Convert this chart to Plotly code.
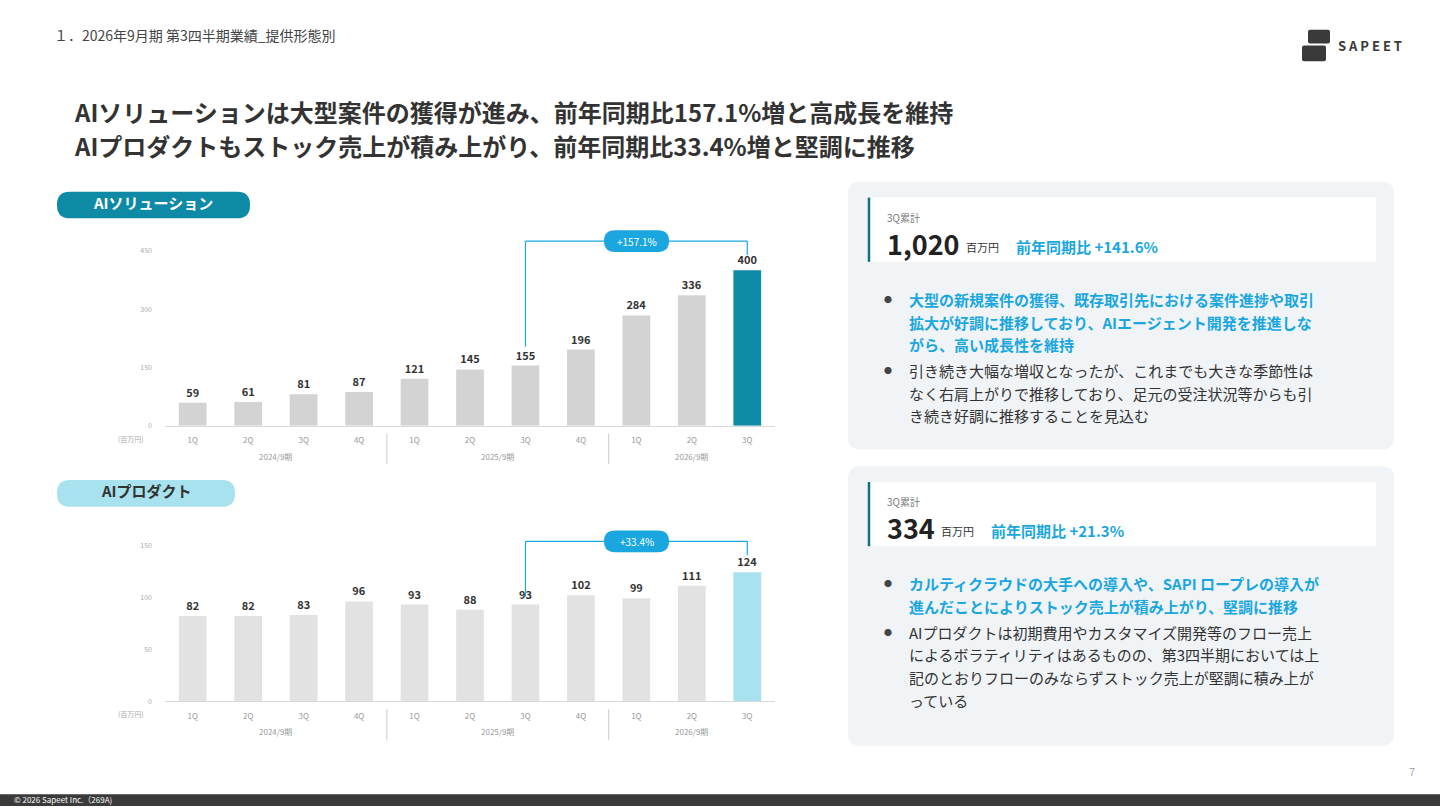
import plotly.graph_objects as go

quarters = ["1Q","2Q","3Q","4Q","1Q","2Q","3Q","4Q","1Q","2Q","3Q"]
fiscal_years = ["2024/9期", "2025/9期", "2026/9期"]
sol_values = [59, 61, 81, 87, 121, 145, 155, 196, 284, 336, 400]
prod_values = [82, 82, 83, 96, 93, 88, 93, 102, 99, 111, 124]
sol_growth = "+157.1%"
prod_growth = "+33.4%"

W, H = 1440, 810
FONT = "Noto Sans CJK JP"
def px(x): return x / W
def py(y): return 1 - y / H
PL, PR = 165, 775
def cat_px(c): return PL + (c + 0.5) * (PR - PL) / len(quarters)

xs = list(range(len(quarters)))
fig = go.Figure()
shapes, ann = [], []

def rrect(x0, y0, x1, y1, r, color, line=None):
    X0, X1 = px(x0), px(x1)
    Y0, Y1 = py(y0), py(y1)
    rx, ry = r / W, r / H
    p = (f"M {X0+rx},{Y0} L {X1-rx},{Y0} Q {X1},{Y0} {X1},{Y0-ry} "
         f"L {X1},{Y1+ry} Q {X1},{Y1} {X1-rx},{Y1} L {X0+rx},{Y1} "
         f"Q {X0},{Y1} {X0},{Y1+ry} L {X0},{Y0-ry} Q {X0},{Y0} {X0+rx},{Y0} Z")
    shapes.append(dict(type="path", path=p, xref="paper", yref="paper",
                       fillcolor=color, line=dict(width=0), layer="below"))

def text(x, y, s, size, color="#333", bold=False, anchor="left", yanchor="middle"):
    ann.append(dict(x=px(x), y=py(y), xref="paper", yref="paper", text=(f"<b>{s}</b>" if bold else s),
                    showarrow=False, xanchor=anchor, yanchor=yanchor,
                    font=dict(size=size, color=color, family=FONT)))

def hline(x0, y0, x1, y1, color, w):
    shapes.append(dict(type="line", xref="paper", yref="paper", x0=px(x0), x1=px(x1), y0=py(y0), y1=py(y1),
                       line=dict(color=color, width=w)))

charts = [
    dict(vals=sol_values, hi="#0e8aa6", base="#d3d3d3", ax="", y0px=425,
         ticks=[0,150,300,450], growth=sol_growth, brL=345, brTop=238, brR=252),
    dict(vals=prod_values, hi="#a8e2ee", base="#e2e2e2", ax="2", y0px=704,
         ticks=[0,50,100,150], growth=prod_growth, brL=598, brTop=542, brR=556),
]
for c in charts:
    colors = [c["base"]] * (len(xs) - 1) + [c["hi"]]
    fig.add_trace(go.Bar(x=xs, y=c["vals"], marker=dict(color=colors, line=dict(width=0)), width=0.5,
                         text=[f"<b>{v}</b>" for v in c["vals"]], textposition="outside", cliponaxis=False,
                         textfont=dict(size=11, color="#333", family=FONT),
                         xaxis="x" + c["ax"], yaxis="y" + c["ax"], showlegend=False))
    for sx in [3.5, 7.5]:
        hline(cat_px(sx), c["y0px"] + 8, cat_px(sx), c["y0px"] + 39, "#cccccc", 1)
    for fy, cx in zip(fiscal_years, [1.5, 5.5, 9]):
        text(cat_px(cx), c["y0px"] + 31, fy, 8, "#999", anchor="center")
    text(116, c["y0px"] + 13, "(百万円)", 7, "#aaa")
    lc = "#1aa7e0"
    hline(cat_px(6), c["brL"], cat_px(6), c["brTop"], lc, 1.2)
    hline(cat_px(6), c["brTop"], cat_px(10), c["brTop"], lc, 1.2)
    hline(cat_px(10), c["brTop"], cat_px(10), c["brR"], lc, 1.2)
    rrect(604, c["brTop"] - 11, 669, c["brTop"] + 11, 11, lc)
    text(636.5, c["brTop"], c["growth"], 10, "white", anchor="center")

dom_x = [px(PL), px(PR)]
xcommon = dict(domain=dom_x, range=[-0.5, 10.5], tickvals=xs, ticktext=quarters, showline=True, linecolor="#d9d9d9",
               tickfont=dict(size=8, color="#999", family=FONT), ticks="", ticklabelstandoff=7)
ycommon = dict(showgrid=False, zeroline=False, tickfont=dict(size=7, color="#aaa", family=FONT), ticks="",
               showline=False, ticklabelstandoff=12)
fig.update_layout(
    xaxis=dict(**xcommon),
    yaxis=dict(domain=[py(425), py(248)], range=[0, 450], tickvals=charts[0]["ticks"], **ycommon),
    xaxis2=dict(**xcommon, anchor="y2"),
    yaxis2=dict(domain=[py(704), py(546)], range=[0, 150], tickvals=charts[1]["ticks"], anchor="x2", **ycommon),
)

text(52, 29, "１．2026年9月期 第3四半期業績_提供形態別", 14, "#444")
text(72, 107, "AIソリューションは大型案件の獲得が進み、前年同期比157.1%増と高成長を維持", 24, "#333", bold=True)
text(72, 141, "AIプロダクトもストック売上が積み上がり、前年同期比33.4%増と堅調に推移", 24, "#333", bold=True)

rrect(1308, 24, 1330, 38, 2, "#3a3a3a")
rrect(1302, 40, 1326, 56, 2, "#3a3a3a")
text(1336, 40, "S A P E E T", 13, "#3a3a3a", bold=True)

rrect(57, 188, 250, 215, 13, "#0e8aa6")
text(153, 199, "AIソリューション", 15, "white", bold=True, anchor="center")
rrect(57, 480, 235, 507, 13, "#a8e2ee")
text(146, 491, "AIプロダクト", 15, "#333", bold=True, anchor="center")

blue = "#1aa7e0"
panels = [
    dict(y0=178, y1=449, big="1,020", bigx=885, unitx=964, yoyx=1014, yoy="前年同期比 +141.6%",
         blue_lines=["大型の新規案件の獲得、既存取引先における案件進捗や取引",
                     "拡大が好調に推移しており、AIエージェント開発を推進しな",
                     "がら、高い成長性を維持"],
         gray_lines=["引き続き大幅な増収となったが、これまでも大きな季節性は",
                     "なく右肩上がりで推移しており、足元の受注状況等からも引",
                     "き続き好調に推移することを見込む"]),
    dict(y0=466, y1=749, big="334", bigx=885, unitx=939, yoyx=989, yoy="前年同期比 +21.3%",
         blue_lines=["カルティクラウドの大手への導入や、SAPI ロープレの導入が",
                     "進んだことによりストック売上が積み上がり、堅調に推移"],
         gray_lines=["AIプロダクトは初期費用やカスタマイズ開発等のフロー売上",
                     "によるボラティリティはあるものの、第3四半期においては上",
                     "記のとおりフローのみならずストック売上が堅調に積み上が",
                     "っている"]),
]
for p in panels:
    rrect(848, p["y0"], 1394, p["y1"], 12, "#f1f4f7")
    b0 = p["y0"] + 16
    shapes.append(dict(type="rect", xref="paper", yref="paper", x0=px(868), x1=px(1376), y0=py(b0), y1=py(b0 + 65),
                       fillcolor="white", line=dict(width=0)))
    hline(869, b0, 869, b0 + 65, "#0e6f86", 2.5)
    text(885, b0 + 20, "3Q累計", 10, "#777")
    text(p["bigx"], b0 + 46, p["big"], 27, "#222", bold=True)
    text(p["unitx"], b0 + 50, "百万円", 11, "#333")
    text(p["yoyx"], b0 + 49, p["yoy"], 15, blue, bold=True)
    y = b0 + 103
    for i, l in enumerate(p["blue_lines"]):
        if i == 0:
            text(882, y, "●", 8, "#444")
        text(907, y, l, 15, blue, bold=True)
        y += 23
    y += 3
    for i, l in enumerate(p["gray_lines"]):
        if i == 0:
            text(882, y, "●", 8, "#444")
        text(907, y, l, 15, "#333")
        y += 23

shapes.append(dict(type="rect", xref="paper", yref="paper", x0=0, x1=1, y0=0, y1=py(798),
                   fillcolor="#3a3a3a", line=dict(width=0)))
text(12, 803, "© 2026 Sapeet Inc.（269A)", 8, "white")
text(1412, 775, "7", 11, "#aaa", anchor="center")

fig.update_layout(width=W, height=H, margin=dict(l=0, r=0, t=0, b=0), plot_bgcolor="white", paper_bgcolor="white",
                  shapes=shapes, annotations=ann, font=dict(family=FONT), bargap=0.5)
fig.write_html("out.html", config={"displayModeBar": False})

with open("out.html", encoding="utf-8") as f:
    html = f.read()
html = html.replace("<head>", "<head><style>html,body{margin:0;padding:0;overflow:hidden;}</style>", 1)
with open("out.html", "w", encoding="utf-8") as f:
    f.write(html)
